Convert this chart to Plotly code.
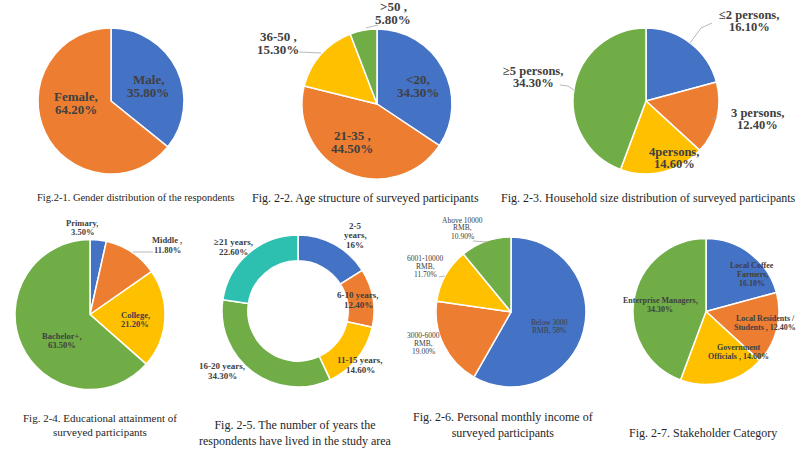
import plotly.graph_objects as go

W, H = 797, 451

# ---------------- data ----------------
gender_cats = ["Male", "Female"]
gender_vals = [35.8, 64.2]
gender_text = ["Male,<br>35.80%", "Female,<br>64.20%"]

age_cats = ["<20", "21-35", "36-50", ">50"]
age_vals = [34.3, 44.5, 15.3, 5.8]
age_text = ["&lt;20,<br>34.30%", "21-35 ,<br>44.50%", "36-50 ,<br>15.30%", "&gt;50 ,<br>5.80%"]

house_cats = ["≤2 persons", "3 persons", "4persons", "≥5 persons"]
house_vals = [16.1, 12.4, 14.6, 34.3]
house_text = ["≤2 persons,<br>16.10%", "3 persons,<br>12.40%", "4persons,<br>14.60%", "≥5 persons,<br>34.30%"]

edu_cats = ["Primary", "Middle", "College", "Bachelor+"]
edu_vals = [3.5, 11.8, 21.2, 63.5]
edu_text = ["Primary,<br>3.50%", "Middle ,<br>11.80%", "College,<br>21.20%", "Bachelor+,<br>63.50%"]

years_cats = ["2-5 years", "6-10 years", "11-15 years", "16-20 years", "≥21 years"]
years_vals = [16.0, 12.4, 14.6, 34.3, 22.6]
years_text = ["2-5<br>years,<br>16%", "6-10 years,<br>12.40%", "11-15 years,<br>14.60%",
              "16-20 years,<br>34.30%", "≥21 years,<br>22.60%"]

income_cats = ["Below 3000 RMB", "3000-6000 RMB", "6001-10000 RMB", "Above 10000 RMB"]
income_vals = [58.0, 19.0, 11.7, 10.9]
income_text = ["Below 3000<br>RMB, 58%", "3000-6000<br>RMB,<br>19.00%", "6001-10000<br>RMB,<br>11.70%",
               "Above 10000<br>RMB,<br>10.90%"]

stake_cats = ["Local Coffee Farmers", "Local Residents / Students", "Government Officials", "Enterprise Managers"]
stake_vals = [16.1, 12.4, 14.6, 34.3]
stake_text = ["Local Coffee<br>Farmers,<br>16.10%", "Local Residents /<br>Students , 12.40%",
              "Government<br>Officials , 14.60%", "Enterprise Managers,<br>34.30%"]

captions = [
    "Fig.2-1. Gender distribution of the respondents",
    "Fig. 2-2. Age structure of surveyed participants",
    "Fig. 2-3. Household size distribution of surveyed participants",
    "Fig. 2-4. Educational attainment of<br>surveyed participants",
    "Fig. 2-5. The number of years the<br>respondents have lived in the study area",
    "Fig. 2-6. Personal monthly income of<br>surveyed participants",
    "Fig. 2-7. Stakeholder Category",
]

# ---------------- style ----------------
BLUE, ORANGE, YELLOW, GREEN, TEAL = "#4472C4", "#ED7D31", "#FFC000", "#70AD47", "#2DBFAF"
FONT = "Liberation Serif"
TXT = "#404040"

def px(x, y):
    return x / W, 1 - y / H

# (cats, vals, colors, center px, radius px, hole)
charts = [
    (gender_cats, gender_vals, [BLUE, ORANGE], (111, 101), 73, 0),
    (age_cats, age_vals, [BLUE, ORANGE, YELLOW, GREEN], (377, 104), 75, 0),
    (house_cats, house_vals, [BLUE, ORANGE, YELLOW, GREEN], (646, 101), 73, 0),
    (edu_cats, edu_vals, [BLUE, ORANGE, YELLOW, GREEN], (90, 314.5), 75, 0),
    (years_cats, years_vals, [BLUE, ORANGE, YELLOW, GREEN, TEAL], (298, 311), 76, 0.66),
    (income_cats, income_vals, [BLUE, ORANGE, YELLOW, GREEN], (511, 312), 75, 0),
    (stake_cats, stake_vals, [BLUE, ORANGE, YELLOW, GREEN], (706, 311.5), 73, 0),
]

fig = go.Figure()
for cats, vals, cols, (cx, cy), r, hole in charts:
    fig.add_trace(go.Pie(
        labels=cats, values=vals, sort=False, direction="clockwise", rotation=0,
        marker=dict(colors=cols, line=dict(color="white", width=1.5)),
        textinfo="none", hoverinfo="label+percent", hole=hole, showlegend=False,
        domain=dict(x=[(cx - r) / W, (cx + r) / W], y=[1 - (cy + r) / H, 1 - (cy - r) / H]),
    ))

# label texts, their pixel positions, size, line spacing, bold
label_sets = [
    (gender_text, [(148, 86), (76, 103)], 13, 12.5, True),
    (age_text, [(418, 86), (352, 142), (278, 43), (393, 13)], 13, 12.5, True),
    (house_text, [(749, 21), (757, 119), (674, 158), (533, 77)], 12.5, 12.5, True),
    (edu_text, [(82, 227), (167, 245), (135, 319), (62, 340)], 8.5, 9, True),
    (years_text, [(355, 235), (358, 300), (360, 365), (222, 371), (233, 247)], 9, 9.5, True),
    (income_text, [(549, 326), (423, 343), (425, 266), (463, 228)], 7.5, 8, False),
    (stake_text, [(752, 274), (765, 323), (738, 352), (660, 305)], 8, 9, True),
]

annotations = []
for texts, poss, size, sp, bold in label_sets:
    for t, (x, y) in zip(texts, poss):
        lines = t.split("<br>")
        n = len(lines)
        for i, ln in enumerate(lines):
            xx, yy = px(x, y + (i - (n - 1) / 2) * sp)
            annotations.append(dict(
                x=xx, y=yy, xref="paper", yref="paper", showarrow=False,
                xanchor="center", yanchor="middle",
                text=f"<b>{ln}</b>" if bold else ln,
                font=dict(family=FONT, size=size, color=TXT),
            ))

cap_pos = [(135, 198), (365, 198), (648, 198), (100, 425), (295, 433), (503, 425), (703, 433)]
cap_size = [10.5, 12, 12, 11, 12, 12, 12]
for t, (x, y), s in zip(captions, cap_pos, cap_size):
    xx, yy = px(x, y)
    annotations.append(dict(
        x=xx, y=yy, xref="paper", yref="paper", showarrow=False, text=t, align="center",
        xanchor="center", yanchor="middle",
        font=dict(family=FONT, size=s, color="#262626"),
    ))

# leader lines (pixel polylines)
leaders = [
    [(299, 52), (321, 53)],
    [(366, 28), (378, 25)],
    [(712, 23), (701, 28), (690, 43)],
    [(717, 118), (711, 119)],
    [(560, 85), (568, 86), (574, 90)],
    [(133, 252), (153, 252)],
    [(473, 241), (487, 242)],
    [(439, 277), (445, 276)],
]
shapes = []
for pts in leaders:
    path = "M " + " L ".join(f"{px(x, y)[0]:.5f},{px(x, y)[1]:.5f}" for x, y in pts)
    shapes.append(dict(type="path", path=path, xref="paper", yref="paper",
                       line=dict(color="#A6A6A6", width=0.8)))

fig.update_layout(
    width=W, height=H, margin=dict(l=0, r=0, t=0, b=0),
    paper_bgcolor="white", plot_bgcolor="white",
    annotations=annotations, shapes=shapes,
)

fig.write_html("out.html")
